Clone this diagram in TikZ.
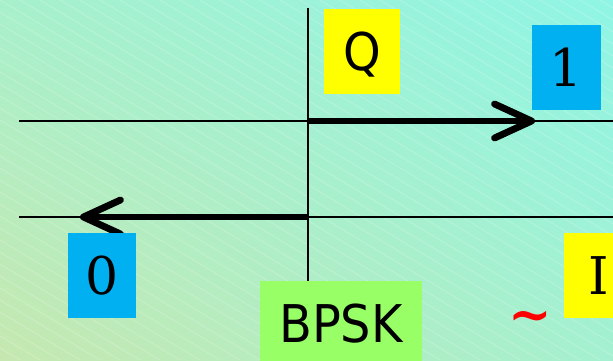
\documentclass[tikz,border=0pt]{standalone}
\usepackage{fontspec}
\setmainfont{DejaVu Sans}[FakeStretch=0.92]
\newfontfamily\serifdig{DejaVu Serif}
\usetikzlibrary{arrows.meta,shadings}
\definecolor{bgll}{RGB}{198,232,176}
\definecolor{bgul}{RGB}{168,240,204}
\definecolor{bgur}{RGB}{144,245,229}
\definecolor{bglr}{RGB}{164,240,208}
\definecolor{qyellow}{RGB}{255,255,0}
\definecolor{bitblue}{RGB}{0,176,240}
\definecolor{modgreen}{RGB}{153,255,102}
\begin{document}
\begin{tikzpicture}[x=0.02cm, y=-0.02cm,
    axisline/.style={line width=1.1pt},
    vecline/.style={line width=3.9pt,
      -{Straight Barb[length=0.74cm, width=0.68cm, round]}},
    lblbox/.style={inner sep=0pt, minimum height=1.7cm, text height=22pt, text depth=0pt,
      font=\fontsize{29.6}{32}\selectfont},
    bitbox/.style={lblbox, fill=bitblue, minimum width=1.38cm, font=\fontsize{29.6}{32}\selectfont\serifdig}]
    \useasboundingbox (0,0) rectangle (613,360);
    \clip (0,0) rectangle (613,360);
    % 背景
    \shade[lower left=bgll, upper left=bgul, upper right=bgur, lower right=bglr]
      (0,360) rectangle (613,0);
    \foreach \k in {-600,-580,...,620}
      \draw[white, opacity=0.3, line width=0.3pt] (\k,0) -- ++(600,360);
    % 軸
    \coordinate (vtop) at (308,8);
    \coordinate (vbot) at (308,282);
    \coordinate (h1l) at (19,121);
    \coordinate (h1r) at (613,121);
    \coordinate (h2l) at (19,217);
    \coordinate (h2r) at (613,217);
    \draw[axisline] (vtop) -- (vbot);
    \draw[axisline] (h1l) -- (h1r);
    \draw[axisline] (h2l) -- (h2r);
    % ベクトル
    \coordinate (o1) at (308,121);
    \coordinate (p1) at (535,121);
    \coordinate (o0) at (308,217);
    \coordinate (p0) at (80,217);
    \draw[vecline] (o1) -- (p1);
    \draw[vecline] (o0) -- (p0);
    % ラベル
    \node[lblbox, fill=qyellow, minimum width=1.54cm] (qlbl) at (362,51.5) {Q};
    \node[bitbox] (bit1) at (566.5,67.5) {1};
    \node[bitbox] (bit0) at (102,275.5) {0};
    \node[bitbox, fill=qyellow] (ilbl) at (598.5,275.5) {I};
    \node[lblbox, fill=modgreen, minimum width=3.24cm] (bpsk) at (341,323.5) {BPSK};
    \node[text=red, font=\fontsize{29.6}{32}\selectfont\serifdig\bfseries] (tld) at (530,322) {\textasciitilde};
\end{tikzpicture}
\end{document}
